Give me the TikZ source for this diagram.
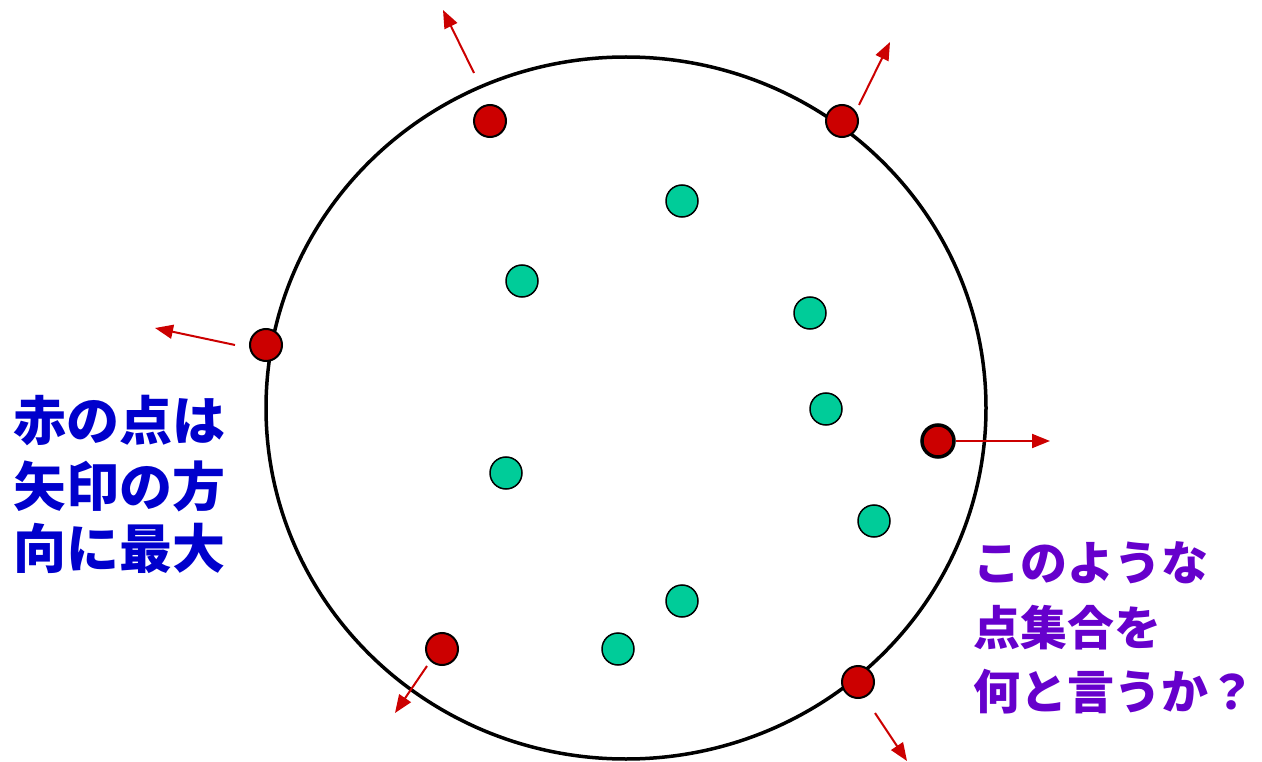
\documentclass[tikz,border=0pt]{standalone}
\usepackage{fontspec}
\newfontfamily\cjk{Noto Sans CJK JP}
\usetikzlibrary{arrows.meta}
\definecolor{dotred}{HTML}{CC0000}
\definecolor{dotgreen}{HTML}{00CC99}
\definecolor{arrred}{HTML}{CC0000}
\definecolor{txtblue}{HTML}{0000CC}
\definecolor{txtpurple}{HTML}{6600CC}
\tikzset{
  reddot/.style={circle,draw=black,line width=2pt,fill=dotred,minimum size=32pt,inner sep=0pt},
  greendot/.style={circle,draw=black,line width=1.5pt,fill=dotgreen,minimum size=32pt,inner sep=0pt},
  normarrow/.style={draw=arrred,line width=2pt,-{Triangle[length=18pt,width=14pt]}},
  bluetxt/.style={anchor=west,inner sep=0pt,text=txtblue,font=\cjk\bfseries\fontsize{53pt}{60pt}\selectfont},
  purpletxt/.style={anchor=west,inner sep=0pt,text=txtpurple,font=\cjk\bfseries\fontsize{47pt}{54pt}\selectfont}
}
\begin{document}
\begin{tikzpicture}[x=1pt,y=-1pt]
\useasboundingbox (0,0) rectangle (1262,762);
\draw[line width=3.5pt] (626,408) ellipse [x radius=360, y radius=351];
% green points
\node[greendot] (g1) at (682,201) {};
\node[greendot] (g2) at (522,281) {};
\node[greendot] (g3) at (810,313) {};
\node[greendot] (g4) at (826,409) {};
\node[greendot] (g5) at (506,473) {};
\node[greendot] (g6) at (874,521) {};
\node[greendot] (g7) at (682,601) {};
\node[greendot] (g8) at (618,649) {};
% red points
\node[reddot] (r1) at (490,121) {};
\node[reddot] (r2) at (842,121) {};
\node[reddot] (r3) at (266,345) {};
\node[reddot,line width=3.5pt] (r4) at (938,441) {};
\node[reddot] (r5) at (442,649) {};
\node[reddot] (r6) at (858,682) {};
% arrow endpoints
\coordinate (a1s) at (474,73);   \coordinate (a1e) at (443,10);
\coordinate (a2s) at (859,105);  \coordinate (a2e) at (890,42);
\coordinate (a3s) at (235,345);  \coordinate (a3e) at (155,328);
\coordinate (a5s) at (427,666);  \coordinate (a5e) at (395,713);
\coordinate (a6s) at (875,713);  \coordinate (a6e) at (907,761);
\coordinate (a4e) at (1050,441);
\draw[normarrow] (a1s) -- (a1e);
\draw[normarrow] (a2s) -- (a2e);
\draw[normarrow] (a3s) -- (a3e);
\draw[normarrow] (r4.east) -- (a4e);
\draw[normarrow] (a5s) -- (a5e);
\draw[normarrow] (a6s) -- (a6e);
% texts
\node[bluetxt] (t1) at (13,421) {赤の点は};
\node[bluetxt] (t2) at (13,486) {矢印の方};
\node[bluetxt] (t3) at (13,548) {向に最大};
\node[purpletxt] (u1) at (973,563) {このような};
\node[purpletxt] (u2) at (973,628) {点集合を};
\node[purpletxt] (u3) at (973,692) {何と言うか？};
\end{tikzpicture}
\end{document}
